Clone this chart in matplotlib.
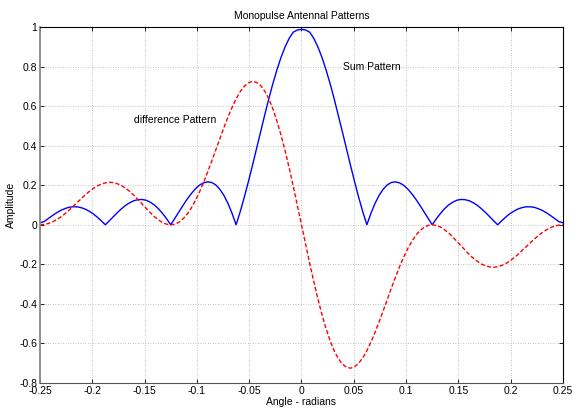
import matplotlib.pyplot as plt
import numpy as np

# ==================================
# 数据
# ==================================
# angle samples, -0.25 .. 0.25 rad, 129 points
angle = np.linspace(-0.25, 0.25, 129)

# sum pattern, right half (angle = 0 .. 0.25), mirrored below
sum_half = [
    0.988, 0.985, 0.974, 0.943, 0.900, 0.847, 0.784, 0.714,
    0.637, 0.555, 0.471, 0.385, 0.300, 0.218, 0.139, 0.066,
    0.0, 0.058, 0.108, 0.149, 0.180, 0.202, 0.214, 0.217,
    0.212, 0.200, 0.181, 0.157, 0.129, 0.098, 0.065, 0.032,
    0.0, 0.030, 0.057, 0.081, 0.100, 0.114, 0.124, 0.128,
    0.127, 0.122, 0.112, 0.099, 0.082, 0.063, 0.042, 0.021,
    0.0, 0.020, 0.039, 0.056, 0.069, 0.080, 0.087, 0.091,
    0.091, 0.088, 0.081, 0.072, 0.060, 0.046, 0.031, 0.016,
    0.01,
]

# difference pattern, right half (left half = mirror with opposite sign)
diff_half = [
    0.0, -0.098, -0.194, -0.286, -0.373, -0.453, -0.524, -0.586,
    -0.637, -0.676, -0.704, -0.720, -0.725, -0.718, -0.700, -0.673,
    -0.637, -0.593, -0.544, -0.491, -0.435, -0.377, -0.320, -0.265,
    -0.212, -0.164, -0.121, -0.084, -0.053, -0.030, -0.013, -0.003,
    0.0, -0.003, -0.011, -0.025, -0.041, -0.061, -0.083, -0.105,
    -0.127, -0.149, -0.168, -0.184, -0.198, -0.207, -0.213, -0.215,
    -0.212, -0.206, -0.196, -0.183, -0.167, -0.150, -0.130, -0.111,
    -0.091, -0.072, -0.054, -0.038, -0.025, -0.014, -0.006, -0.002,
    0.0,
]

sum_pattern = sum_half[:0:-1] + sum_half
diff_pattern = [-v for v in diff_half[:0:-1]] + diff_half

x_ticks = [-0.25, -0.2, -0.15, -0.1, -0.05, 0, 0.05, 0.1, 0.15, 0.2, 0.25]
x_tick_labels = ["-0.25", "-0.2", "-0.15", "-0.1", "-0.05", "0",
                 "0.05", "0.1", "0.15", "0.2", "0.25"]
y_ticks = [-0.8, -0.6, -0.4, -0.2, 0, 0.2, 0.4, 0.6, 0.8, 1]
y_tick_labels = ["-0.8", "-0.6", "-0.4", "-0.2", "0",
                 "0.2", "0.4", "0.6", "0.8", "1"]

# ==================================
# 绘图
# ==================================
plt.rcParams["font.family"] = ["Liberation Sans", "DejaVu Sans"]
plt.rcParams["font.size"] = 7.5

fig = plt.figure(figsize=(5.73, 4.11), dpi=100)
ax = fig.add_axes([0.0698, 0.0681, 0.9127, 0.8662])

ax.plot(angle, sum_pattern, color="#0000ff", linewidth=1.0)
ax.plot(angle, diff_pattern, color="#ff0000", linewidth=1.0,
        linestyle=(0, (3, 1.6)))

ax.set_xlim(-0.25, 0.25)
ax.set_ylim(-0.8, 1)
ax.set_xticks(x_ticks)
ax.set_xticklabels(x_tick_labels)
ax.set_yticks(y_ticks)
ax.set_yticklabels(y_tick_labels)

ax.tick_params(direction="in", length=3, width=0.6, pad=2,
               top=True, right=True, labelsize=7.5)
for s in ax.spines.values():
    s.set_linewidth(0.8)
ax.spines["left"].set_color("#888888")
ax.spines["left"].set_linewidth(1.3)
ax.spines["bottom"].set_color("#555555")

ax.grid(True, color="#b0b0b0", linestyle=(0, (1, 2)), linewidth=0.6)

ax.set_title("Monopulse Antennal Patterns", fontsize=7.5, pad=6)
ax.set_xlabel("Angle - radians", fontsize=7.5, labelpad=1)
ax.set_ylabel("Amplitude", fontsize=7.5, labelpad=2)

ax.text(0.0397, 0.80, "Sum Pattern", fontsize=7.5, va="center")
ax.text(-0.160, 0.53, "difference Pattern", fontsize=7.5, va="center")

fig.savefig("out.png", dpi=100)
